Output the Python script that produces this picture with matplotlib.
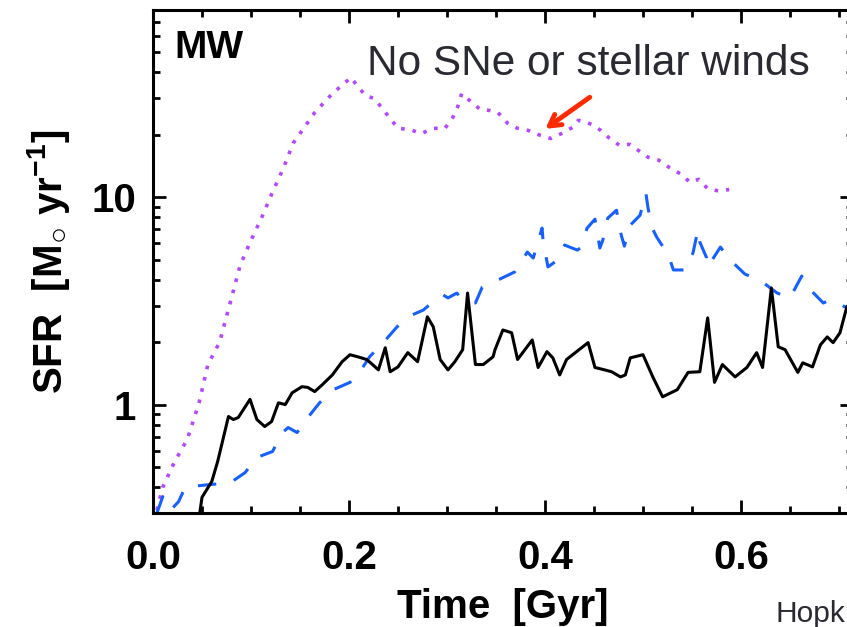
import numpy as np
import matplotlib
matplotlib.use("Agg")
import matplotlib.pyplot as plt
from matplotlib.ticker import LogLocator, FixedLocator, MultipleLocator, NullFormatter

plt.rcParams['font.family'] = ['Liberation Sans', 'DejaVu Sans']
plt.rcParams['mathtext.fontset'] = 'custom'
plt.rcParams['mathtext.rm'] = 'Liberation Sans'
plt.rcParams['mathtext.it'] = 'Liberation Sans'
plt.rcParams['mathtext.bf'] = 'Liberation Sans:bold'

# Star formation history, fiducial run (black solid)
t_fid = [0.048, 0.050, 0.060, 0.066, 0.077, 0.082, 0.087, 0.099, 0.106, 0.114,
         0.121, 0.128, 0.135, 0.142, 0.152, 0.158, 0.165, 0.173, 0.183, 0.193,
         0.201, 0.209, 0.218, 0.224, 0.230, 0.237, 0.242, 0.250, 0.260, 0.270,
         0.280, 0.286, 0.293, 0.301, 0.308, 0.316, 0.321, 0.329, 0.337, 0.347,
         0.349, 0.357, 0.366, 0.372, 0.387, 0.393, 0.402, 0.408, 0.415, 0.422,
         0.444, 0.451, 0.461, 0.468, 0.477, 0.482, 0.487, 0.500, 0.510, 0.520,
         0.535, 0.546, 0.558, 0.566, 0.573, 0.581, 0.594, 0.606, 0.616, 0.622,
         0.631, 0.638, 0.645, 0.658, 0.663, 0.673, 0.681, 0.688, 0.694, 0.701,
         0.708, 0.720]
sfr_fid = [0.306, 0.357, 0.426, 0.532, 0.876, 0.847, 0.866, 1.06, 0.847, 0.784,
           0.828, 1.02, 1.00, 1.14, 1.22, 1.21, 1.155, 1.25, 1.39, 1.61,
           1.74, 1.70, 1.65, 1.56, 1.47, 1.88, 1.44, 1.52, 1.78, 1.61,
           2.65, 2.37, 1.65, 1.47, 1.61, 1.84, 3.45, 1.56, 1.56, 1.70,
           1.84, 2.29, 2.22, 1.65, 2.05, 1.51, 1.80, 1.68, 1.39, 1.65,
           1.99, 1.51, 1.47, 1.44, 1.36, 1.39, 1.68, 1.74, 1.36, 1.09,
           1.18, 1.43, 1.44, 2.62, 1.28, 1.56, 1.36, 1.51, 1.78, 1.51,
           3.65, 1.90, 1.84, 1.43, 1.59, 1.52, 1.94, 2.12, 1.99, 2.22,
           2.96, 3.30]

# Alternative feedback run (blue dashed)
t_alt = [0.004, 0.010, 0.018, 0.026, 0.033, 0.055, 0.079, 0.094, 0.106, 0.122,
         0.132, 0.138, 0.147, 0.158, 0.170, 0.184, 0.201, 0.214, 0.221, 0.235,
         0.249, 0.260, 0.276, 0.290, 0.296, 0.301, 0.310, 0.316, 0.329, 0.336,
         0.352, 0.369, 0.382, 0.388, 0.397, 0.398, 0.403, 0.410, 0.420, 0.433,
         0.436, 0.443, 0.451, 0.456, 0.459, 0.464, 0.473, 0.477, 0.481, 0.487,
         0.497, 0.503, 0.505, 0.509, 0.514, 0.526, 0.531, 0.543, 0.551, 0.556,
         0.558, 0.565, 0.566, 0.579, 0.589, 0.604, 0.619, 0.637, 0.650, 0.662,
         0.668, 0.684, 0.691, 0.699, 0.706, 0.720]
sfr_alt = [0.30, 0.36, 0.31, 0.34, 0.40, 0.41, 0.42, 0.47, 0.556, 0.594,
           0.733, 0.775, 0.733, 0.866, 1.02, 1.18, 1.28, 1.51, 1.70, 1.99,
           2.37, 2.65, 2.86, 3.27, 3.38, 3.27, 3.45, 3.20, 3.09, 3.69,
           3.99, 4.36, 5.44, 5.09, 7.1, 6.2, 4.61, 4.87, 5.88, 5.56,
           5.69, 7.1, 7.84, 5.69, 6.21, 7.93, 8.66, 6.79, 5.81, 7.33,
           8.19, 10.45, 8.95, 7.17, 6.42, 5.26, 4.46, 4.46, 5.38, 6.94,
           6.08, 5.09, 4.61, 5.75, 4.98, 4.26, 3.99, 3.45, 3.27, 4.17,
           3.69, 3.09, 3.20, 3.09, 2.96, 3.00]

# No SNe or stellar winds (purple dotted)
t_nofb = [0.004, 0.010, 0.022, 0.035, 0.047, 0.056, 0.068, 0.079, 0.089, 0.100,
          0.111, 0.122, 0.133, 0.143, 0.150, 0.165, 0.183, 0.202, 0.209, 0.217,
          0.226, 0.234, 0.241, 0.250, 0.262, 0.274, 0.286, 0.298, 0.306, 0.311,
          0.315, 0.323, 0.334, 0.344, 0.352, 0.362, 0.372, 0.383, 0.395, 0.406,
          0.417, 0.428, 0.434, 0.443, 0.448, 0.457, 0.465, 0.476, 0.486, 0.497,
          0.505, 0.516, 0.527, 0.539, 0.548, 0.557, 0.566, 0.578, 0.588]
sfr_nofb = [0.31, 0.40, 0.53, 0.68, 1.02, 1.56, 2.0, 3.13, 4.71, 6.2,
            8.0, 10.6, 13.8, 18.2, 20.3, 25.6, 31.6, 37.8, 34.2, 30.9,
            29.9, 26.8, 24.3, 21.5, 21.2, 20.3, 21.5, 21.5, 24.3, 27.4,
            31.6, 29.3, 26.5, 26.2, 25.6, 22.7, 21.5, 21.0, 19.9, 19.2,
            20.3, 21.7, 23.5, 22.9, 22.4, 21.0, 19.4, 17.8, 18.0, 16.6,
            15.6, 15.1, 13.9, 12.9, 11.8, 12.2, 11.0, 10.7, 10.9]

x_ticks = [0.0, 0.2, 0.4, 0.6]
x_ticklabels = ['0.0', '0.2', '0.4', '0.6']
y_ticks = [1, 10]
y_ticklabels = ['1', '10']

fig = plt.figure(figsize=(8.47, 6.27), dpi=100)
ax = fig.add_axes([153 / 847, 114 / 627, 700 / 847, 503 / 627])

ax.plot(t_nofb, sfr_nofb, color='#b448ff', lw=2.6, linestyle=(0, (1, 2.2)))
ax.plot(t_alt, sfr_alt, color='#1560ff', lw=2.2, linestyle=(0, (6, 6)))
ax.plot(t_fid, sfr_fid, color='black', lw=2.2)

ax.set_yscale('log')
ax.set_xlim(0, 0.7143)
ax.set_ylim(0.3, 80)

ax.xaxis.set_major_locator(FixedLocator(x_ticks))
ax.set_xticklabels(x_ticklabels)
ax.xaxis.set_minor_locator(MultipleLocator(0.05))
ax.yaxis.set_major_locator(FixedLocator(y_ticks))
ax.set_yticklabels(y_ticklabels)
ax.yaxis.set_minor_locator(LogLocator(base=10, subs=np.arange(2, 10)))
ax.yaxis.set_minor_formatter(NullFormatter())

ax.tick_params(which='both', direction='in', top=True, right=True, width=2, color='black')
ax.tick_params(which='major', length=9.5, labelsize=29)
ax.tick_params(axis='x', which='major', pad=19)
ax.tick_params(axis='y', which='major', pad=12)
ax.tick_params(which='minor', length=5)
for lab in ax.get_xticklabels() + ax.get_yticklabels():
    lab.set_fontweight('bold')
for sp in ax.spines.values():
    sp.set_linewidth(2.2)

ax.set_xlabel('Time  [Gyr]', fontsize=29, fontweight='bold', labelpad=8)
ax.set_ylabel(r'SFR  [M$_{\bigcirc}$ yr$^{\mathbf{-1}}$]', fontsize=29, fontweight='bold', labelpad=14)

ax.text(0.03, 0.96, 'MW', transform=ax.transAxes, fontsize=28, fontweight='bold',
        va='top', ha='left')

fig.text(367 / 847, 1 - 75 / 627, 'No SNe or stellar winds', fontsize=30.5,
         color='#2a2a33', va='baseline', ha='left')
ax.annotate('', xy=(0.398, 21.0), xytext=(0.448, 30.9),
            arrowprops=dict(arrowstyle='->,head_length=0.8,head_width=0.45',
                            color='#ff2a00', lw=3.5))

fig.text(775 / 847, 1 - 622 / 627, 'Hopk', fontsize=21.5,
         color='#2a2a33', va='baseline', ha='left')

fig.savefig('out.png', dpi=100)
